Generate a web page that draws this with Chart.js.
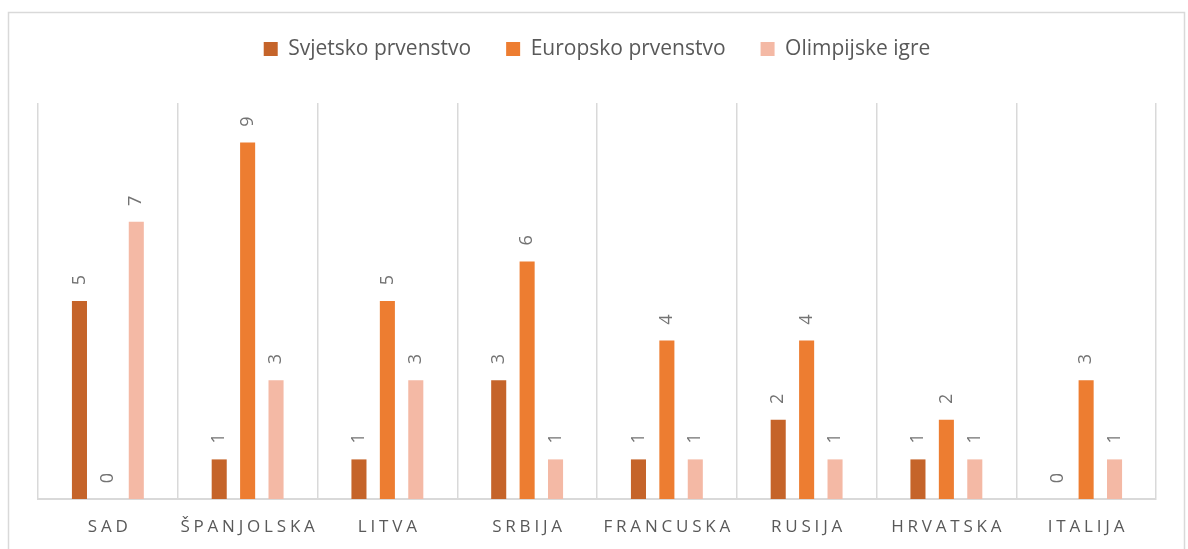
<!DOCTYPE html>
<html>
<head>
<meta charset="utf-8">
<script src="https://cdn.jsdelivr.net/npm/chart.js@4"></script>
<style>
    html, body { margin: 0; padding: 0; background: #fff; }
    #wrap { width: 1188px; height: 549px; }
</style>
</head>
<body>
<div id="wrap"><canvas id="medalChart" width="1188" height="549"></canvas></div>
<script>
const countries = ['SAD', 'ŠPANJOLSKA', 'LITVA', 'SRBIJA', 'FRANCUSKA', 'RUSIJA', 'HRVATSKA', 'ITALIJA'];
const svjetsko = [5, 1, 1, 3, 1, 2, 1, 0];
const europsko = [0, 9, 5, 6, 4, 4, 2, 3];
const olimpijske = [7, 3, 3, 1, 1, 1, 1, 1];
const seriesNames = ['Svjetsko prvenstvo', 'Europsko prvenstvo', 'Olimpijske igre'];

const FONT = "'Open Sans', 'Liberation Sans', sans-serif";
const TEXT_GREY = '#595959';

// outer frame of the chart object
const framePlugin = {
    id: 'frame',
    beforeDraw(chart) {
        const ctx = chart.ctx;
        ctx.save();
        ctx.strokeStyle = '#d9d9d9';
        ctx.lineWidth = 1.5;
        ctx.strokeRect(8.5, 12.5, 1176, 560);
        ctx.restore();
    }
};

// rotated value labels above each bar
const valueLabels = {
    id: 'valueLabels',
    afterDatasetsDraw(chart) {
        const ctx = chart.ctx;
        ctx.save();
        ctx.font = '18px ' + FONT;
        ctx.fillStyle = '#737373';
        ctx.textAlign = 'center';
        ctx.textBaseline = 'middle';
        chart.data.datasets.forEach((ds, di) => {
            chart.getDatasetMeta(di).data.forEach((bar, i) => {
                ctx.save();
                ctx.translate(bar.x, bar.y - 21);
                ctx.rotate(-Math.PI / 2);
                ctx.fillText(String(ds.data[i]), 0, 0);
                ctx.restore();
            });
        });
        ctx.restore();
    }
};

// letter-spaced category names under the axis
const spacedTicks = {
    id: 'spacedTicks',
    afterDraw(chart) {
        const ctx = chart.ctx;
        const xScale = chart.scales.x;
        const spacing = 3.8;
        ctx.save();
        ctx.font = '17px ' + FONT;
        ctx.fillStyle = TEXT_GREY;
        ctx.textAlign = 'center';
        ctx.textBaseline = 'middle';
        ctx.letterSpacing = spacing + 'px';
        countries.forEach((name, i) => {
            ctx.fillText(name, xScale.getPixelForValue(i) + spacing / 2, 527);
        });
        ctx.restore();
    }
};

const ctx = document.getElementById('medalChart').getContext('2d');

new Chart(ctx, {
    type: 'bar',
    data: {
        labels: countries,
        datasets: [
            { label: seriesNames[0], data: svjetsko, backgroundColor: '#C5642A' },
            { label: seriesNames[1], data: europsko, backgroundColor: '#ED7D31' },
            { label: seriesNames[2], data: olimpijske, backgroundColor: '#F4B9A5' }
        ]
    },
    options: {
        responsive: false,
        animation: false,
        categoryPercentage: 0.61,
        barPercentage: 0.53,
        layout: {
            padding: { top: 3.5, left: 38, right: 32, bottom: 50 }
        },
        scales: {
            x: {
                grid: { color: '#d9d9d9', lineWidth: 1.5, drawTicks: false, offset: true },
                border: { color: '#d9d9d9', width: 2 },
                ticks: { display: false }
            },
            y: {
                display: false,
                min: 0,
                max: 10
            }
        },
        plugins: {
            legend: {
                position: 'top',
                weight: 3000,
                labels: {
                    boxWidth: 14,
                    boxHeight: 14,
                    padding: 35,
                    color: TEXT_GREY,
                    font: { family: FONT, size: 21 }
                }
            },
            // empty title used as spacing between legend and plot
            title: {
                display: true,
                text: '',
                font: { size: 10 },
                padding: { top: 0, bottom: 21.5 }
            },
            tooltip: { enabled: false }
        }
    },
    plugins: [framePlugin, valueLabels, spacedTicks]
});
</script>
</body>
</html>
